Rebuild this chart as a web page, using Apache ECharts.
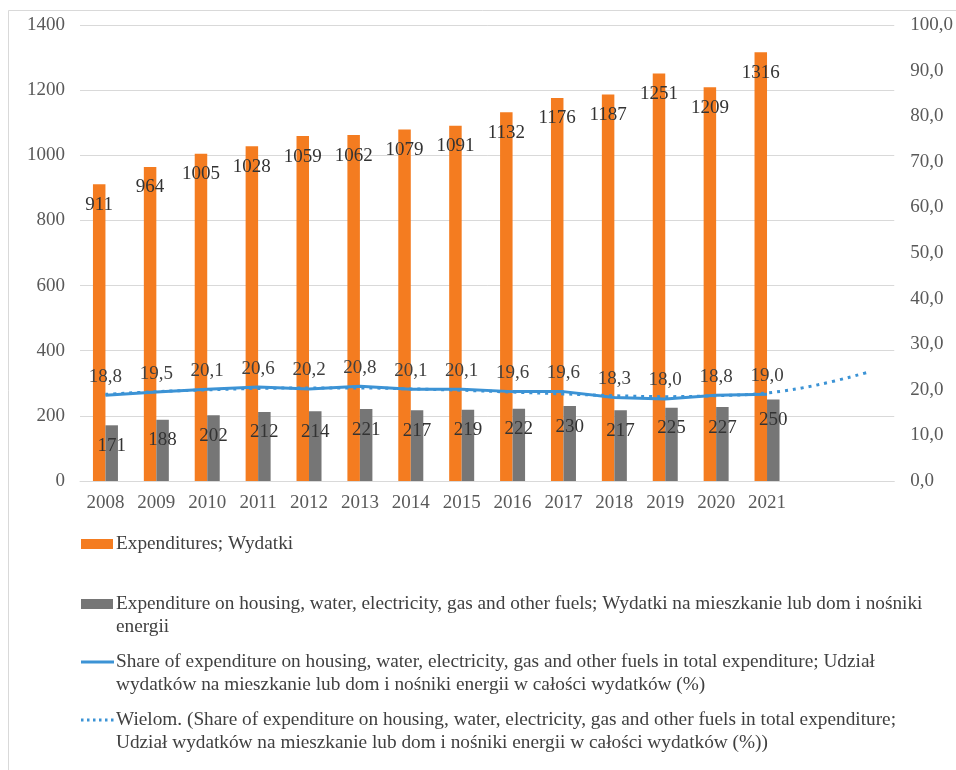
<!DOCTYPE html>
<html>
<head>
<meta charset="utf-8">
<title>Expenditures 2008–2021</title>
<script src="https://cdn.jsdelivr.net/npm/echarts@6/dist/echarts.min.js"></script>
<style>
  html, body { margin: 0; padding: 0; background: #ffffff; }
  #chart { width: 956px; height: 770px; }
</style>
</head>
<body>
<div id="chart"></div>
<script>
// Years on the category axis; two empty slots leave room for the trend forecast
const years = ['2008', '2009', '2010', '2011', '2012', '2013', '2014', '2015', '2016', '2017', '2018', '2019', '2020', '2021', '', ''];

// Monthly expenditures per person
const expenditures = [911, 964, 1005, 1028, 1059, 1062, 1079, 1091, 1132, 1176, 1187, 1251, 1209, 1316];

// Expenditure on housing, water, electricity, gas and other fuels
const housingExpenditure = [171, 188, 202, 212, 214, 221, 217, 219, 222, 230, 217, 225, 227, 250];

// Share of housing expenditure in total (%)
const housingShare = [18.8, 19.5, 20.1, 20.6, 20.2, 20.8, 20.1, 20.1, 19.6, 19.6, 18.3, 18.0, 18.8, 19.0];

// Polynomial trend of the share, with two forecast periods
const shareTrend = [19.0, 19.6, 20.0, 20.3, 20.4, 20.4, 20.2, 19.9, 19.5, 19.1, 18.7, 18.5, 18.7, 19.3, 21.1, 23.9];

// Axis ticks
const leftTicks = { min: 0, max: 1400, interval: 200 };
const rightTicks = { min: 0, max: 100, interval: 10 };

// Series names and their legend texts split into display lines
const seriesNames = [
  'Expenditures; Wydatki',
  'Expenditure on housing, water, electricity, gas and other fuels; Wydatki na mieszkanie lub dom i nośniki energii',
  'Share of expenditure on housing, water, electricity, gas and other fuels in total expenditure; Udział wydatków na mieszkanie lub dom i nośniki energii w całości wydatków (%)',
  'Wielom. (Share of expenditure on housing, water, electricity, gas and other fuels in total expenditure; Udział wydatków na mieszkanie lub dom i nośniki energii w całości wydatków (%))'
];
const legendLines = [
  ['Expenditures; Wydatki'],
  ['Expenditure on housing, water, electricity, gas and other fuels; Wydatki na mieszkanie lub dom i nośniki', 'energii'],
  ['Share of expenditure on housing, water, electricity, gas and other fuels in total expenditure; Udział', 'wydatków na mieszkanie lub dom i nośniki energii w całości wydatków (%)'],
  ['Wielom. (Share of expenditure on housing, water, electricity, gas and other fuels in total expenditure;', 'Udział wydatków na mieszkanie lub dom i nośniki energii w całości wydatków (%))']
];

const FONT = '"Liberation Serif", "Times New Roman", serif';
const ORANGE = '#F47C20';
const GREY = '#767676';
const BLUE = '#3C93D5';
const GRID = '#D9D9D9';
const AXIS_TEXT = '#595959';
const LABEL_TEXT = '#333333';
const FS = 19;

const commaFmt = v => v.toFixed(1).replace('.', ',');

// Legend drawn as graphic rows: swatch + wrapped text
const legendRows = [
  { y: 544, kind: 'rect', color: ORANGE },
  { y: 604, kind: 'rect', color: GREY },
  { y: 662, kind: 'line', color: BLUE },
  { y: 720, kind: 'dots', color: BLUE }
];
const legendGraphics = [];
legendRows.forEach((row, i) => {
  if (row.kind === 'rect') {
    legendGraphics.push({ type: 'rect', shape: { x: 81, y: row.y - 5, width: 32, height: 10 }, style: { fill: row.color } });
  } else {
    legendGraphics.push({
      type: 'line',
      shape: { x1: 81, y1: row.y, x2: 114, y2: row.y },
      style: { stroke: row.color, lineWidth: 3, lineDash: row.kind === 'dots' ? [2.5, 3.5] : null }
    });
  }
  legendLines[i].forEach((t, j) => {
    legendGraphics.push({
      type: 'text',
      x: 116,
      y: row.y + j * 23,
      style: { text: t, font: '19.3px ' + FONT, fill: '#404040', verticalAlign: 'middle', align: 'left' }
    });
  });
});

// Outer frame of the chart area
legendGraphics.push({
  type: 'rect',
  shape: { x: 8.5, y: 10.5, width: 1000, height: 800 },
  style: { fill: 'none', stroke: GRID, lineWidth: 1 },
  silent: true
});

const chart = echarts.init(document.getElementById('chart'), null, { renderer: 'canvas' });

chart.setOption({
  animation: false,
  backgroundColor: '#ffffff',
  textStyle: { fontFamily: FONT },
  grid: { left: 80, right: 61, top: 25, bottom: 289, containLabel: false },
  xAxis: {
    type: 'category',
    data: years,
    boundaryGap: true,
    axisLine: { lineStyle: { color: GRID, width: 1 } },
    axisTick: { show: false },
    axisLabel: { color: AXIS_TEXT, fontSize: FS, fontFamily: FONT, margin: 13, interval: 0 }
  },
  yAxis: [
    {
      type: 'value',
      min: leftTicks.min, max: leftTicks.max, interval: leftTicks.interval,
      axisLine: { show: false },
      axisTick: { show: false },
      splitLine: { lineStyle: { color: GRID, width: 1 } },
      axisLabel: { color: AXIS_TEXT, fontSize: FS, fontFamily: FONT, margin: 15, formatter: v => String(v) }
    },
    {
      type: 'value',
      position: 'right',
      min: rightTicks.min, max: rightTicks.max, interval: rightTicks.interval,
      axisLine: { show: false },
      axisTick: { show: false },
      splitLine: { show: false },
      axisLabel: { color: AXIS_TEXT, fontSize: FS, fontFamily: FONT, margin: 16, formatter: v => commaFmt(v) }
    }
  ],
  series: [
    {
      name: seriesNames[0],
      type: 'bar',
      data: expenditures,
      barWidth: 12.5,
      barGap: '0%',
      itemStyle: { color: ORANGE },
      label: { show: true, position: 'insideTop', distance: 11, color: LABEL_TEXT, fontSize: FS, fontFamily: FONT },
      z: 2
    },
    {
      name: seriesNames[1],
      type: 'bar',
      data: housingExpenditure,
      barWidth: 12.5,
      itemStyle: { color: GREY },
      label: { show: true, position: 'insideTop', distance: 11, color: LABEL_TEXT, fontSize: FS, fontFamily: FONT },
      z: 2
    },
    {
      name: seriesNames[3],
      type: 'line',
      yAxisIndex: 1,
      data: shareTrend,
      symbol: 'none',
      smooth: 0.4,
      lineStyle: { color: BLUE, width: 3, type: [3, 5] },
      z: 3
    },
    {
      name: seriesNames[2],
      type: 'line',
      yAxisIndex: 1,
      data: housingShare,
      symbol: 'circle',
      symbolSize: 0,
      showSymbol: true,
      itemStyle: { color: BLUE },
      lineStyle: { color: BLUE, width: 3 },
      label: { show: true, position: 'top', distance: 9, color: '#404040', fontSize: FS, fontFamily: FONT, formatter: p => commaFmt(p.value) },
      z: 4
    }
  ],
  graphic: legendGraphics
});
</script>
</body>
</html>
